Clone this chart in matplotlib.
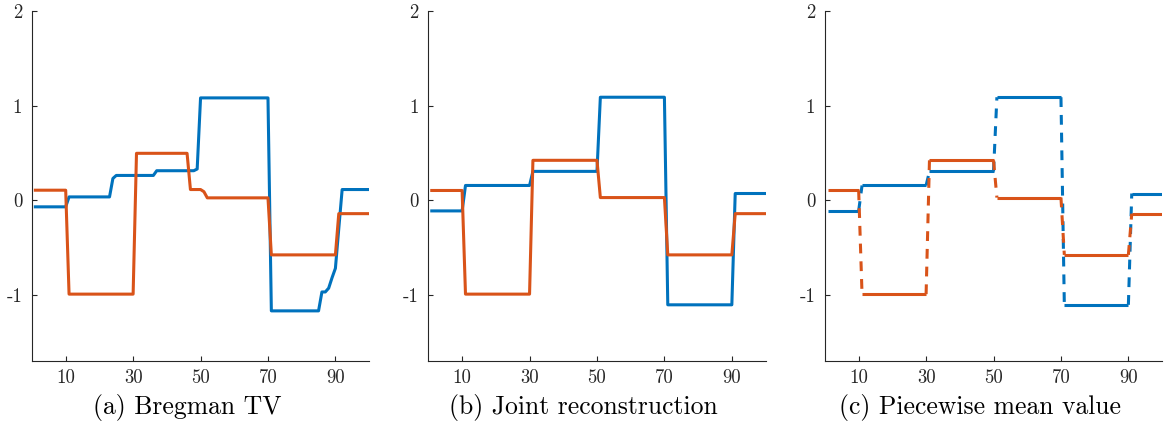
import numpy as np
import matplotlib
matplotlib.use("Agg")
import matplotlib.pyplot as plt

# ---------------- data ----------------
x = np.arange(1, 101)

# (a) Bregman TV : segment lengths and levels
a_blue_len = [10, 13, 1, 12, 12, 1, 21, 15, 2, 1, 1, 1, 1, 9]
a_blue_val = [-0.07, 0.035, 0.23, 0.262, 0.312, 0.33, 1.082, -1.17, -0.97,
              -0.93, -0.82, -0.72, -0.30, 0.113]
a_orange_len = [10, 20, 16, 4, 1, 19, 20, 10]
a_orange_val = [0.106, -0.993, 0.496, 0.113, 0.09, 0.025, -0.578, -0.142]

# (b) Joint reconstruction
b_blue_len = [10, 20, 20, 20, 20, 10]
b_blue_val = [-0.113, 0.156, 0.305, 1.089, -1.106, 0.071]
b_orange_len = [10, 20, 20, 20, 20, 10]
b_orange_val = [0.103, -0.993, 0.422, 0.028, -0.578, -0.142]

# (c) Piecewise mean value
c_blue_len = [10, 20, 20, 20, 20, 10]
c_blue_val = [-0.113, 0.156, 0.305, 1.089, -1.106, 0.071]
c_orange_len = [10, 20, 20, 20, 20, 10]
c_orange_val = [0.103, -0.993, 0.422, 0.028, -0.578, -0.142]

captions = ["(a) Bregman TV", "(b) Joint reconstruction", "(c) Piecewise mean value"]
xticks = [10, 30, 50, 70, 90]
yticks = [-1, 0, 1, 2]
ytick_labels = ["-1", "0", "1", "2"]

BLUE = "#0072BD"
ORANGE = "#D95319"
AXC = "#262626"

plt.rcParams["font.family"] = ["cmr10", "DejaVu Serif"]
plt.rcParams["axes.unicode_minus"] = False


def series(lengths, values):
    return np.repeat(values, lengths)


def plateaus(xv, yv):
    xs, ys = [xv[0]], [yv[0]]
    for i in range(1, len(yv)):
        if yv[i] != yv[i - 1]:
            xs.append(np.nan)
            ys.append(np.nan)
        xs.append(xv[i])
        ys.append(yv[i])
    return np.array(xs, float), np.array(ys, float)


def jumps(xv, yv):
    xs, ys = [], []
    for i in range(len(yv) - 1):
        if yv[i + 1] != yv[i]:
            xs += [xv[i], xv[i + 1], np.nan]
            ys += [yv[i], yv[i + 1], np.nan]
    return np.array(xs, float), np.array(ys, float)


fig = plt.figure(figsize=(11.67, 4.26), dpi=100)
lefts = [0.0274, 0.3671, 0.7069]
W = 0.2889
B = 0.1526
H = 0.974 - B
cap_x = [0.1602, 0.4996, 0.8397]

panels = [
    (series(a_blue_len, a_blue_val), series(a_orange_len, a_orange_val), False),
    (series(b_blue_len, b_blue_val), series(b_orange_len, b_orange_val), False),
    (series(c_blue_len, c_blue_val), series(c_orange_len, c_orange_val), True),
]

lw = 2.2
for i, (yb, yo, dashed) in enumerate(panels):
    ax = fig.add_axes([lefts[i], B, W, H])
    if dashed:
        ls = (0, (3.2, 2.6))
        for yv, col in ((yb, BLUE), (yo, ORANGE)):
            px, py = plateaus(x, yv)
            ax.plot(px, py, color=col, lw=lw, solid_capstyle="butt")
            jx, jy = jumps(x, yv)
            ax.plot(jx, jy, color=col, lw=lw, ls=ls, dash_capstyle="butt")
    else:
        ax.plot(x, yb, color=BLUE, lw=lw)
        ax.plot(x, yo, color=ORANGE, lw=lw)
    ax.set_xlim(0, 100)
    ax.set_ylim(-1.7, 2)
    ax.set_xticks(xticks)
    ax.set_xticklabels([str(t) for t in xticks])
    ax.set_yticks(yticks)
    ax.set_yticklabels(ytick_labels)
    for s in ["top", "right"]:
        ax.spines[s].set_visible(False)
    for s in ["left", "bottom"]:
        ax.spines[s].set_color(AXC)
        ax.spines[s].set_linewidth(0.8)
    ax.tick_params(direction="in", length=3.5, width=0.8, color=AXC,
                   labelcolor=AXC, labelsize=13.5)
    ax.tick_params(axis="x", pad=6)
    ax.tick_params(axis="y", pad=7)
    fig.text(cap_x[i], 1 - 414 / 426, captions[i], ha="center", va="baseline",
             fontsize=18.5, color="black")

fig.savefig("out.png", dpi=100)
